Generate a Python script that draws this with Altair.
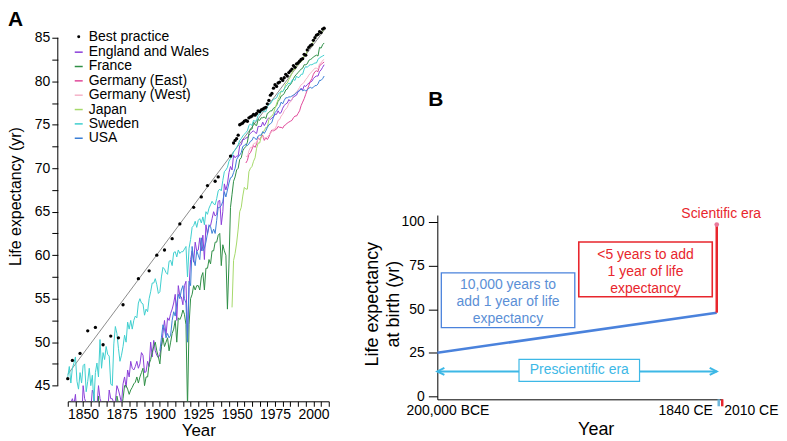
import altair as alt
import pandas as pd

# ---------------- Panel A data ----------------
country_names = ["England and Wales", "France", "Germany (East)",
                 "Germany (West)", "Japan", "Sweden", "USA"]
country_colors = ["#8b3fd9", "#2f8f46", "#e0489a",
                  "#f5b3c8", "#a6d96a", "#3fcfcf", "#3c7fd6"]
best_name = "Best practice"

best_years = [1840, 1843, 1848, 1853, 1858, 1863, 1868, 1873, 1876, 1886,
              1893, 1898, 1903, 1908, 1913, 1922, 1927, 1931, 1936, 1938,
              1946, 1948, 1949, 1950, 1951, 1952, 1953, 1954, 1955, 1956,
              1957, 1958, 1959, 1960, 1961, 1962, 1963, 1964, 1965, 1966,
              1967, 1968, 1969, 1970, 1971, 1972, 1973, 1974, 1975, 1976,
              1977, 1978, 1979, 1980, 1981, 1982, 1983, 1984, 1985, 1986,
              1987, 1988, 1989, 1990, 1991, 1992, 1993, 1994, 1995, 1996,
              1997, 1998, 1999, 2000, 2001, 2002, 2003, 2004, 2005, 2006, 2007]
best_values = [45.8, 47.9, 48.7, 51.3, 51.7, 49.7, 50.7, 50.5, 54.3, 57.3,
               58.2, 60.0, 60.6, 61.9, 63.6, 65.5, 66.7, 68.0, 68.5, 69.0,
               71.4, 72.9, 73.2, 73.4, 73.8, 75.0, 75.1, 75.2, 75.4, 75.5,
               75.4, 75.8, 75.9, 76.0, 76.2, 76.1, 76.3, 76.6, 76.5, 76.7,
               76.8, 76.9, 77.0, 77.4, 77.8, 78.4, 78.6, 79.2, 79.6, 79.4,
               79.8, 79.9, 80.3, 80.1, 80.4, 80.8, 80.6, 81.0, 81.2, 81.4,
               81.8, 81.6, 82.0, 82.1, 82.3, 82.5, 82.6, 83.1, 83.0, 83.6,
               83.9, 84.1, 84.2, 84.7, 85.0, 85.3, 85.4, 85.7, 85.6, 86.0, 86.1]

trend_years = [1840, 2008]
trend_values = [46.3, 86.1]

ew_start = 1841
ew_values = [42.5, 43.0, 43.5, 42.8, 44.0, 41.5, 41.0, 43.2, 40.5, 45.0,
             43.5, 43.0, 42.0, 42.5, 42.3, 44.5, 44.0, 41.5, 42.5, 45.0,
             43.5, 43.0, 42.0, 42.0, 42.5, 42.0, 44.5, 43.5, 43.5, 43.0,
             43.2, 45.0, 44.5, 43.8, 43.0, 45.2, 46.0, 44.8, 46.8, 46.0,
             47.8, 47.0, 46.8, 47.2, 47.8, 47.0, 47.5, 48.8, 48.5, 46.5,
             46.6, 47.8, 47.2, 50.0, 48.3, 50.2, 49.0, 48.5, 48.2, 48.6,
             49.5, 51.0, 52.5, 50.8, 52.8, 52.5, 53.3, 53.8, 54.5, 55.5,
             52.5, 56.5, 55.3, 55.2, 54.3, 56.5, 57.0, 50.5, 56.3, 59.5,
             60.5, 59.2, 61.5, 60.5, 60.6, 62.0, 60.5, 62.3, 59.5, 63.5,
             62.4, 63.3, 63.4, 64.2, 65.0, 64.5, 64.7, 66.2, 66.3, 63.5,
             65.0, 68.2, 67.5, 68.2, 69.5, 70.2, 69.8, 71.5, 71.2, 71.4,
             71.4, 72.6, 72.7, 73.3, 73.3, 73.5, 73.5, 73.8, 74.0, 74.2,
             74.3, 74.1, 74.0, 74.8, 74.8, 74.8, 75.3, 74.9, 75.2, 75.6,
             75.8, 75.6, 75.8, 75.9, 76.2, 76.2, 76.6, 76.3, 76.4, 76.9,
             77.2, 77.4, 77.5, 77.9, 77.7, 77.9, 78.2, 78.3, 78.4, 78.8,
             78.9, 79.2, 79.0, 79.5, 79.4, 79.6, 79.8, 79.9, 80.0, 80.3,
             80.5, 80.6, 80.6, 81.1, 81.3, 81.6, 81.9]

fr_start = 1840
fr_values = [41.0, 41.2, 40.5, 41.5, 42.0, 42.8, 40.5, 39.5, 40.0, 36.0,
             41.0, 40.8, 41.0, 39.0, 36.5, 38.0, 41.0, 40.0, 39.5, 37.0,
             43.8, 40.0, 42.0, 41.5, 41.8, 40.0, 42.0, 43.0, 41.0, 41.0,
             37.0, 33.0, 43.8, 43.0, 43.0, 42.5, 43.5, 45.0, 45.0, 44.6,
             44.0, 44.5, 44.8, 45.2, 45.4, 46.0, 45.3, 46.0, 46.5, 47.0,
             45.0, 46.0, 46.0, 47.5, 48.0, 48.8, 49.5, 50.0, 49.0, 48.3,
             47.5, 49.5, 50.5, 49.5, 50.0, 50.5, 49.0, 50.0, 51.0, 51.5,
             52.5, 50.0, 52.8, 52.6, 53.0, 53.7, 53.2, 52.0, 42.5, 52.0,
             55.0, 55.5, 56.5, 56.0, 56.5, 56.5, 56.0, 57.5, 58.0, 56.0,
             58.5, 58.5, 59.5, 59.0, 60.5, 60.5, 61.5, 61.5, 62.3, 62.5,
             58.8, 61.2, 60.5, 60.0, 53.8, 59.0, 65.5, 67.0, 68.5, 69.0,
             69.8, 70.0, 71.0, 71.2, 72.0, 72.3, 72.5, 73.0, 74.0, 74.5,
             74.5, 75.3, 75.0, 74.9, 75.6, 75.5, 75.8, 75.8, 75.9, 75.7,
             76.3, 76.4, 76.6, 76.6, 76.9, 77.0, 77.2, 77.7, 77.9, 78.3,
             78.4, 78.6, 79.0, 79.1, 79.5, 79.6, 79.9, 80.3, 80.6, 80.8,
             81.0, 81.2, 81.4, 81.5, 81.9, 81.9, 82.0, 82.4, 82.5, 82.6,
             82.8, 82.9, 83.0, 82.9, 83.9, 83.8, 84.2, 84.4]

gde_start = 1956
gde_values = [70.6, 70.9, 71.6, 71.8, 72.2, 72.6, 72.4, 72.8, 73.5, 73.3,
              73.6, 73.8, 73.2, 73.5, 73.3, 73.6, 74.1, 74.4, 74.3, 74.4,
              74.5, 74.8, 74.7, 74.7, 74.6, 74.9, 75.0, 75.2, 75.3, 75.4,
              75.5, 75.8, 76.0, 76.0, 76.3, 76.6, 77.2, 77.6, 78.0, 78.5,
              79.0, 79.5, 80.0, 80.3, 80.8, 81.1, 81.2, 81.1, 81.8, 81.9,
              82.1, 82.2]

gdw_start = 1956
gdw_values = [71.4, 71.3, 72.0, 72.4, 72.4, 72.8, 72.9, 72.9, 73.5, 73.4,
              73.5, 73.6, 73.5, 73.5, 73.6, 73.8, 74.0, 74.2, 74.5, 74.5,
              74.9, 75.5, 75.6, 76.0, 76.2, 76.6, 76.8, 77.0, 77.5, 77.6,
              77.9, 78.4, 78.6, 78.8, 79.0, 79.3, 79.6, 79.7, 79.9, 80.2,
              80.4, 80.7, 80.9, 81.1, 81.3, 81.5, 81.5, 81.4, 82.0, 82.1,
              82.4, 82.5]

jp_start = 1947
jp_values = [54.0, 59.4, 60.2, 61.4, 63.0, 65.0, 65.5, 66.8, 67.8, 67.6,
             67.6, 69.6, 70.0, 70.2, 70.8, 71.2, 72.3, 72.9, 72.9, 73.6,
             74.2, 74.3, 74.7, 74.7, 75.6, 75.9, 76.0, 76.3, 76.9, 77.4,
             77.9, 78.3, 78.9, 78.8, 79.1, 79.7, 79.8, 80.2, 80.5, 80.9,
             81.4, 81.3, 81.8, 81.9, 82.1, 82.2, 82.5, 83.0, 82.9, 83.6,
             83.8, 84.0, 84.0, 84.6, 84.9, 85.2, 85.3, 85.6, 85.5, 85.8,
             86.0]

se_start = 1840
se_values = [46.0, 47.2, 45.3, 47.0, 47.6, 48.3, 45.5, 44.6, 46.5, 45.3,
             47.3, 47.5, 44.3, 45.5, 47.0, 45.0, 46.2, 43.0, 46.5, 47.6,
             46.0, 50.3, 47.0, 48.8, 48.0, 49.5, 48.6, 48.4, 45.2, 45.0,
             49.8, 51.8, 51.0, 49.3, 47.8, 48.5, 49.5, 50.8, 50.0, 52.3,
             51.5, 52.5, 51.5, 52.5, 53.0, 52.8, 54.5, 55.0, 54.5, 54.4,
             53.1, 53.8, 53.5, 55.0, 55.8, 56.8, 56.8, 57.3, 56.6, 55.6,
             55.8, 57.5, 58.6, 58.4, 58.0, 57.8, 59.3, 59.4, 58.8, 60.3,
             60.4, 59.8, 60.6, 60.2, 60.4, 60.4, 60.7, 61.0, 57.5, 60.8,
             61.8, 63.2, 63.4, 63.9, 63.2, 64.0, 64.2, 63.7, 64.4, 63.5,
             65.0, 64.7, 65.4, 65.8, 66.2, 65.9, 65.8, 66.5, 67.4, 67.6,
             67.4, 68.6, 69.6, 69.8, 70.1, 70.8, 71.1, 71.3, 71.9, 72.1,
             72.4, 72.7, 73.2, 73.4, 73.7, 73.9, 74.1, 74.3, 74.9, 75.1,
             74.9, 75.5, 75.4, 75.5, 76.1, 76.2, 76.5, 76.6, 76.5, 76.5,
             77.1, 77.3, 77.4, 77.7, 77.9, 78.0, 78.1, 78.5, 78.7, 78.8,
             78.8, 79.1, 79.4, 79.6, 79.8, 79.7, 80.1, 80.2, 80.1, 80.6,
             80.4, 80.5, 80.8, 80.8, 81.4, 81.7, 81.6, 81.8, 81.9, 81.9,
             82.0, 82.1, 82.1, 82.5, 82.7, 82.8, 82.9, 83.0]

us_start = 1900
us_values = [49.0, 50.5, 52.0, 51.5, 50.5, 51.0, 50.5, 50.8, 52.5, 53.5,
             53.0, 54.5, 55.5, 55.0, 56.0, 56.5, 55.0, 54.5, 50.0, 57.0,
             56.5, 61.0, 59.5, 58.8, 60.5, 60.0, 59.5, 62.0, 60.5, 60.8,
             61.5, 62.5, 63.5, 63.3, 62.5, 63.0, 62.5, 64.0, 65.5, 65.5,
             65.7, 66.2, 67.3, 66.7, 67.5, 68.3, 68.9, 69.0, 69.5, 70.0,
             71.0, 71.3, 71.5, 71.8, 72.5, 72.6, 72.8, 72.6, 72.8, 73.1,
             73.2, 73.6, 73.4, 73.3, 73.7, 73.8, 73.8, 74.2, 74.0, 74.3,
             74.7, 75.0, 75.1, 75.3, 75.9, 76.4, 76.6, 76.9, 77.1, 77.6,
             77.4, 77.8, 78.1, 78.1, 78.2, 78.2, 78.3, 78.4, 78.5, 78.7,
             78.8, 79.0, 79.1, 78.9, 79.0, 78.9, 79.0, 79.2, 79.3, 79.2,
             79.3, 79.5, 79.5, 79.7, 80.1, 80.1, 80.3, 80.6]

x_ticks_a = [1840, 1845, 1850, 1855, 1860, 1865, 1870, 1875, 1880, 1885, 1890,
             1895, 1900, 1905, 1910, 1915, 1920, 1925, 1930, 1935, 1940, 1945,
             1950, 1955, 1960, 1965, 1970, 1975, 1980, 1985, 1990, 1995, 2000,
             2005, 2010]
y_ticks_a = [45, 47.5, 50, 52.5, 55, 57.5, 60, 62.5, 65, 67.5, 70, 72.5, 75,
             77.5, 80, 82.5, 85]

# ---------------- Panel B data ----------------
b_tick_years = [-200000, 1840, 2010]
b_tick_labels = ["200,000 BCE", "1840 CE", "2010 CE"]
b_y_ticks = [0, 25, 50, 75, 100]
prescientific_years = [-200000, 1840]
prescientific_values = [25, 48]
scientific_year = 1840
scientific_values = [48, 99]
arrow_value = 14.3
marker_value = 98.5

# ---------------- build tables ----------------
country_series = [
    ("England and Wales", ew_start, ew_values),
    ("France", fr_start, fr_values),
    ("Germany (East)", gde_start, gde_values),
    ("Germany (West)", gdw_start, gdw_values),
    ("Japan", jp_start, jp_values),
    ("Sweden", se_start, se_values),
    ("USA", us_start, us_values),
]
rows = []
for name, start, vals in country_series:
    for i, v in enumerate(vals):
        rows.append({"series": name, "year": start + i, "value": v})
lines_df = pd.DataFrame(rows)
best_df = pd.DataFrame({"series": best_name, "year": best_years, "value": best_values})
trend_df = pd.DataFrame({"year": trend_years, "value": trend_values})

FONT = "Liberation Sans"
W_A, H_A = 272, 375
W_B, H_B = 286, 373

scale_xA = alt.Scale(domain=[1840, 2010], range=[10, W_A], nice=False, zero=False)
scale_yA = alt.Scale(domain=[43.2, 86.15], nice=False, zero=False)

ax_xA = alt.Axis(values=x_ticks_a, format="d",
                 labelExpr="datum.value % 25 === 0 ? datum.label : ''",
                 title="Year", titleFontSize=17, titleY=34, titleBaseline="alphabetic",
                 tickSize=5, labelPadding=1, labelFontSize=14,
                 labelOverlap=False, labelFlush=False, grid=False)
ax_yA = alt.Axis(values=y_ticks_a, format="d",
                 labelExpr="datum.value % 5 === 0 ? datum.label : ''",
                 title="Life expectancy (yr)", titleFontSize=16, titleX=-34, titleY=169,
                 domain=False, tickSize=6, labelPadding=2, labelFontSize=14,
                 labelOverlap=False, labelFlush=False, grid=False)

legend_lines = alt.Legend(
    orient="none", legendX=14, legendY=17.5, title=None, direction="vertical",
    labelFontSize=14, labelFont=FONT, labelColor="black", symbolType="stroke",
    symbolSize=64, symbolStrokeWidth=1.5, rowPadding=0.4, labelOffset=3, padding=0)
legend_best = alt.Legend(
    orient="none", legendX=14, legendY=2, title=None, direction="vertical",
    labelFontSize=14, labelFont=FONT, labelColor="black", symbolType="circle",
    symbolSize=9, symbolFillColor="black", symbolStrokeColor="black",
    symbolStrokeWidth=0, labelOffset=3, padding=0)

color_A = alt.Color("series:N", scale=alt.Scale(domain=country_names, range=country_colors),
                    legend=legend_lines)
shape_A = alt.Shape("series:N", scale=alt.Scale(domain=[best_name], range=["circle"]),
                    legend=legend_best)


def xa(field="year"):
    return alt.X(f"{field}:Q", scale=scale_xA, axis=ax_xA)


def ya(field="value"):
    return alt.Y(f"{field}:Q", scale=scale_yA, axis=ax_yA)


trend = alt.Chart(trend_df).mark_line(color="#6e6e6e", strokeWidth=0.8).encode(x=xa(), y=ya())
lines = alt.Chart(lines_df).mark_line(strokeWidth=1, clip=True).encode(
    x=xa(), y=ya(), color=color_A)
pts = alt.Chart(best_df).mark_point(size=11, filled=True, opacity=1, color="black").encode(
    x=xa(), y=ya(), shape=shape_A)
yrule = alt.Chart(pd.DataFrame({"lo": [y_ticks_a[0]], "hi": [y_ticks_a[-1]]})).mark_rule(
    color="black", strokeWidth=1).encode(x=alt.value(0), y=ya("lo"), y2="hi:Q")
labelA = alt.Chart(pd.DataFrame({"t": ["A"]})).mark_text(
    text="A", font=FONT, fontSize=21, fontWeight="bold", align="left", baseline="top",
    color="black").encode(x=alt.value(-50), y=alt.value(-19))

panelA = alt.layer(trend, lines, pts, yrule, labelA).properties(width=W_A, height=H_A)

# ---------------- Panel B ----------------
scale_xB = alt.Scale(domain=[-200000, 1840, 2010], range=[0, 280.5, 286], nice=False, zero=False)
scale_yB = alt.Scale(domain=[-1.7, 104], range=[H_B, 188], nice=False, zero=False)

ax_xB = alt.Axis(labels=False, ticks=False, title="Year", titleFontSize=18,
                 titleX=159, titleY=35, titleBaseline="alphabetic", grid=False)
ax_yB = alt.Axis(values=b_y_ticks, format="d", title=["Life expectancy", "at birth (yr)"],
                 titleFontSize=18, titleLineHeight=21, titleX=-56, titleY=277,
                 tickSize=9, labelPadding=4, labelFontSize=14,
                 labelOverlap=False, labelFlush=False, grid=False)


def xb(field="year"):
    return alt.X(f"{field}:Q", scale=scale_xB, axis=ax_xB)


def yb(field="value"):
    return alt.Y(f"{field}:Q", scale=scale_yB, axis=ax_yB)


BLUE = "#4a82dc"
RED = "#e8262d"
CYAN = "#3db8e6"

blue_df = pd.DataFrame({"year": prescientific_years, "value": prescientific_values})
blue_line = alt.Chart(blue_df).mark_line(color=BLUE, strokeWidth=2.5).encode(x=xb(), y=yb())

sci_df = pd.DataFrame({"year": [scientific_year], "lo": [scientific_values[0]],
                       "hi": [scientific_values[1]]})
red_line = alt.Chart(sci_df).mark_rule(color=RED, strokeWidth=2.5).encode(
    x=xb(), y=yb("lo"), y2="hi:Q")

marker_df = pd.DataFrame({"year": [scientific_year], "value": [marker_value]})
marker = alt.Chart(marker_df).mark_point(shape="circle", size=22, filled=True,
                                         color="#e9799a", opacity=1).encode(x=xb(), y=yb())

arrow_df = pd.DataFrame({"start": [prescientific_years[0]], "end": [prescientific_years[1]],
                         "value": [arrow_value]})
arrow = alt.Chart(arrow_df).mark_rule(color=CYAN, strokeWidth=2).encode(
    x=xb("start"), x2="end:Q", y=yb())
head_l = alt.Chart(arrow_df).mark_point(shape="M 2 -1 L 0 0 L 2 1", size=50, filled=False,
                                        color=CYAN, strokeWidth=2, opacity=1).encode(
    x=xb("start"), y=yb())
head_r = alt.Chart(arrow_df).mark_point(shape="M -2 -1 L 0 0 L -2 1", size=50, filled=False,
                                        color=CYAN, strokeWidth=2, opacity=1).encode(
    x=xb("end"), y=yb())

one = pd.DataFrame({"k": [0]})


def box(x0, x1, y0, y1, color, width):
    return alt.Chart(one).mark_rect(fill="white", stroke=color, strokeWidth=width).encode(
        x=alt.value(x0), x2=alt.value(x1), y=alt.value(y0), y2=alt.value(y1))


def note(lines_, x, y, color, size=14, align="center", weight="normal", baseline="alphabetic"):
    return alt.Chart(one).mark_text(text=lines_, font=FONT, fontSize=size, color=color,
                                    align=align, baseline=baseline, lineHeight=17.3,
                                    fontWeight=weight).encode(
        x=alt.value(x), y=alt.value(y))


red_box = box(142, 276, 215, 270, RED, 1.6)
red_text = note(["<5 years to add", "1 year of life", "expectancy"], 209, 232, RED)
blue_box = box(4, 138, 246, 301, BLUE, 1.3)
blue_text = note(["10,000 years to", "add 1 year of life", "expectancy"], 71, 262, "#5b8fd6")
cyan_box = box(82, 203, 333, 355, CYAN, 1.2)
cyan_text = note("Prescientific era", 142.5, 348, CYAN)
sci_text = note("Scientific era", 285, 191, RED)
labelB = note("B", -9, 62, "black", size=21, align="left", weight="bold", baseline="top")

tick_df = pd.DataFrame({"year": b_tick_years, "label": b_tick_labels})
tick_specs = [("left", -31), ("right", -4), ("left", 2)]
tick_layers = []
for i, (al, dx) in enumerate(tick_specs):
    tick_layers.append(
        alt.Chart(tick_df.iloc[[i]]).mark_text(font=FONT, fontSize=14, color="black",
                                               align=al, dx=dx, baseline="alphabetic").encode(
            x=xb(), y=alt.value(H_B + 16), text="label:N"))

mini_df = pd.DataFrame({"year": [b_tick_years[1], b_tick_years[2]]})
mini_cyan = alt.Chart(mini_df.iloc[[0]]).mark_rule(color="#6fb6da", strokeWidth=2.5, xOffset=2).encode(
    x=xb(), y=alt.value(H_B), y2=alt.value(H_B + 7))
mini_red = alt.Chart(mini_df.iloc[[1]]).mark_rule(color=RED, strokeWidth=2.5).encode(
    x=xb(), y=alt.value(H_B), y2=alt.value(H_B + 7))

panelB = alt.layer(blue_line, arrow, cyan_box, cyan_text, head_l, head_r,
                   red_line, marker, red_box, red_text, blue_box, blue_text,
                   sci_text, labelB, mini_cyan, mini_red, *tick_layers).properties(
    width=W_B, height=H_B)

chart = alt.hconcat(panelA, panelB, spacing=109, bounds="flush").properties(
    padding=0).configure_view(stroke=None).configure_axis(
    labelFont=FONT, titleFont=FONT, titleFontWeight="normal", labelColor="black",
    titleColor="black", domainColor="black", tickColor="black", domainWidth=1, tickWidth=1
).configure_text(font=FONT)

chart.save("out.html", embed_options={"renderer": "svg", "actions": False})
